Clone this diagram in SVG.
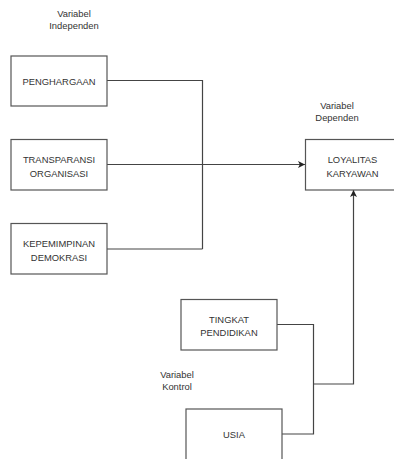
<svg xmlns="http://www.w3.org/2000/svg" width="394" height="459" viewBox="0 0 394 459">
<style>
.box{fill:#fff;stroke:#555;stroke-width:1.2}
.t{font-family:"Liberation Sans",Arial,sans-serif;font-size:9.4px;fill:#333;text-anchor:middle}
.c{fill:none;stroke:#444;stroke-width:1.2}
</style>
<defs>
<marker id="arr" markerWidth="8" markerHeight="8" refX="7" refY="4" orient="auto" markerUnits="userSpaceOnUse">
<path d="M0,0.5 L7,4 L0,7.5 L1.8,4 Z" fill="#222"/>
</marker>
</defs>
<rect width="394" height="459" fill="#fff"/>
<g id="connectors">
<polyline class="c" points="107,80.5 202.5,80.5 202.5,249"/>
<polyline class="c" points="107,249 202.5,249"/>
<line class="c" x1="107" y1="164.5" x2="305" y2="164.5" marker-end="url(#arr)"/>
<polyline class="c" points="277,324.5 313.5,324.5 313.5,434 282,434"/>
<polyline class="c" points="313.5,384 353.5,384 353.5,190" marker-end="url(#arr)"/>
</g>
<g id="label-independen">
<text class="t" x="74" y="16.5">Variabel</text>
<text class="t" x="74" y="28.5">Independen</text>
</g>
<g id="label-dependen">
<text class="t" x="337" y="108.5">Variabel</text>
<text class="t" x="337" y="120.5">Dependen</text>
</g>
<g id="label-kontrol">
<text class="t" x="177" y="377.5">Variabel</text>
<text class="t" x="177" y="390">Kontrol</text>
</g>
<g id="penghargaan">
<rect class="box" x="11" y="56" width="96" height="50"/>
<text class="t" x="59" y="84.5">PENGHARGAAN</text>
</g>
<g id="transparansi">
<rect class="box" x="11" y="139.5" width="96" height="50.5"/>
<text class="t" x="59" y="162.5">TRANSPARANSI</text>
<text class="t" x="59" y="176.5">ORGANISASI</text>
</g>
<g id="kepemimpinan">
<rect class="box" x="11" y="223.5" width="96" height="50.5"/>
<text class="t" x="59" y="246.5">KEPEMIMPINAN</text>
<text class="t" x="59" y="260.5">DEMOKRASI</text>
</g>
<g id="loyalitas">
<rect class="box" x="305.5" y="139.5" width="96" height="50.5"/>
<text class="t" x="352.5" y="162.5">LOYALITAS</text>
<text class="t" x="352.5" y="176.5">KARYAWAN</text>
</g>
<g id="tingkat">
<rect class="box" x="181" y="299.5" width="96" height="50.5"/>
<text class="t" x="229" y="322.5">TINGKAT</text>
<text class="t" x="229" y="336">PENDIDIKAN</text>
</g>
<g id="usia">
<rect class="box" x="186" y="409" width="96" height="60"/>
<text class="t" x="234" y="437.5">USIA</text>
</g>
</svg>
